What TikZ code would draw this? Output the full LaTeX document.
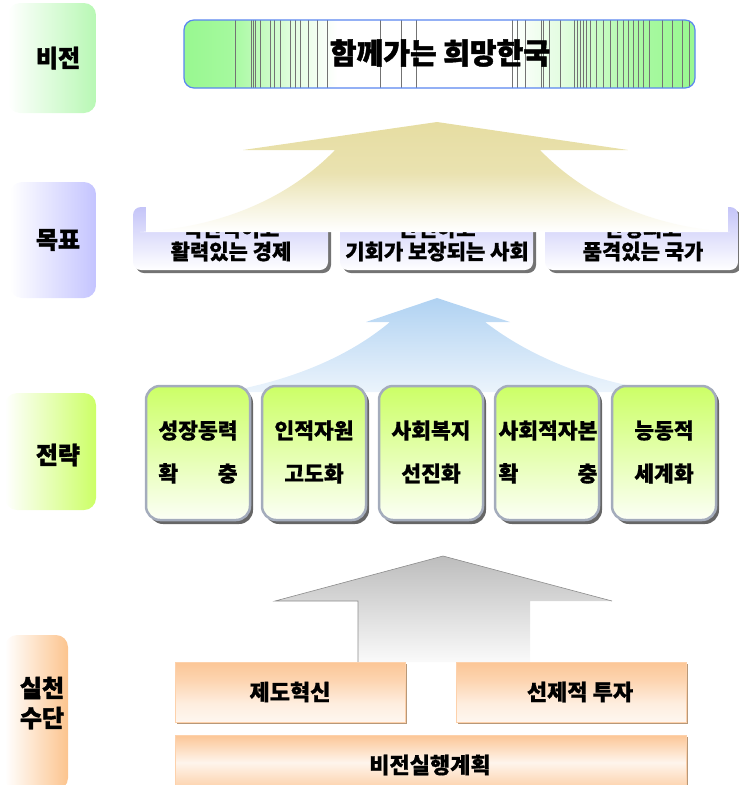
\documentclass[tikz,border=0pt]{standalone}
\usepackage{fontspec}
\usepackage{calc}
\setmainfont{Noto Sans CJK KR}
\newfontfamily\heavyfont{Noto Sans CJK KR}[BoldFeatures={FakeBold=1.6}]
\newfontfamily\semifont{Noto Sans CJK KR}[BoldFeatures={FakeBold=0.7}]
\usetikzlibrary{shadings}
\definecolor{lblgreen}{HTML}{B8F8B4}
\definecolor{lblblue}{HTML}{C4C4FF}
\definecolor{lblyg}{HTML}{CCFF66}
\definecolor{lblorange}{HTML}{FCC48E}
\definecolor{bannerG}{HTML}{98F890}
\definecolor{bannerB}{HTML}{5A86F0}
\definecolor{goaltop}{HTML}{C4C4F8}
\definecolor{strtop}{HTML}{CCFF66}
\definecolor{strborder}{HTML}{A4ACBC}
\definecolor{orgtop}{HTML}{FCC696}
\definecolor{orgshadow}{HTML}{B89878}
\definecolor{yarrow}{HTML}{E6DDA2}
\definecolor{barrow}{HTML}{B0D2F2}
\pgfdeclarehorizontalshading{bannershade}{100bp}{color(0bp)=(bannerG); color(25bp)=(bannerG); color(29.5bp)=(bannerG!88!white); color(36bp)=(bannerG!25!white); color(40bp)=(white); color(57bp)=(white); color(62bp)=(bannerG!28!white); color(70bp)=(bannerG!85!white); color(75bp)=(bannerG); color(100bp)=(bannerG)}
\pgfdeclareverticalshading{yshade}{100bp}{color(0bp)=(white); color(25bp)=(white); color(37bp)=(yarrow!35!white); color(52bp)=(yarrow!85!white); color(75bp)=(yarrow); color(100bp)=(yarrow)}
\pgfdeclareverticalshading{oshade}{100bp}{color(0bp)=(white); color(25bp)=(orgtop!15!white); color(40bp)=(orgtop!30!white); color(60bp)=(orgtop!75!white); color(75bp)=(orgtop); color(100bp)=(orgtop)}
\tikzset{
  lbltext/.style={font=\heavyfont\bfseries\fontsize{24}{30}\selectfont, inner sep=0pt, align=center},
  goalbox/.style={rounded corners=8pt, top color=goaltop, bottom color=white},
  goalshadow/.style={fill=black!55, rounded corners=8pt},
  goaltext/.style={font=\semifont\bfseries\fontsize{21}{23}\selectfont, inner sep=0pt, align=center},
  stratbox/.style={rounded corners=14pt, top color=strtop, bottom color=strtop!6!white, draw=strborder, line width=2.5pt},
  stratshadow/.style={fill=black!60, rounded corners=14pt},
  strattext/.style={font=\semifont\bfseries\fontsize{21.5}{43}\selectfont, inner sep=0pt, align=center},
  orgbox/.style={shading=oshade, draw=orgtop!80!white, line width=0.6pt},
  orgshad/.style={fill=orgshadow},
  orgtext/.style={font=\semifont\bfseries\fontsize{22}{24}\selectfont, inner sep=0pt}
}
\begin{document}
\begin{tikzpicture}[x=1pt,y=-1pt]
\useasboundingbox (0,0) rectangle (739,785);

% ---- left labels
\shade[left color=white, right color=lblgreen, rounded corners=12pt] (8,3) rectangle (96,113);
\node[lbltext] (lvision) at (58,58) {비전};
\shade[left color=white, right color=lblblue, rounded corners=12pt] (10,182) rectangle (96,298);
\node[lbltext] (lgoal) at (58,240) {목표};
\shade[left color=white, right color=lblyg, rounded corners=12pt] (5,393) rectangle (96,510);
\node[lbltext] (lstrat) at (58,455) {전략};
\shade[left color=white, right color=lblorange, rounded corners=12pt] (5,635) rectangle (68,790);
\node[lbltext] (lmeans) at (42,703) {실천\\수단};

% ---- banner
\shade[shading=bannershade, rounded corners=10pt] (184,20) rectangle (695,88);
\begin{scope}
\clip[rounded corners=10pt] (184,20) rectangle (695,88);
\foreach \xx in {235,251,253,255,260,270,274,280,290,295,300,308,317,327,380,401,416,512,517,525,541,543,549,560,574,577,580,583,586,590,596,603,610,617,623,628,633,638,643,649,662,672,682,689}
  \draw[black!55, line width=0.5pt] (\xx,20) -- (\xx,88);
\end{scope}
\draw[bannerB, line width=1.2pt, rounded corners=10pt] (184,20) rectangle (695,88);
\node[font=\heavyfont\bfseries\fontsize{29}{32}\selectfont, inner sep=0pt] (vision) at (440,53) {함께가는 희망한국};

% ---- goal boxes
\fill[goalshadow] (136,210) rectangle (331,273);
\shade[goalbox] (133,207) rectangle (328,270);
\node[goaltext] (g1) at (231,240) {혁신적이고\\활력있는 경제};
\fill[goalshadow] (343,210) rectangle (536,273);
\shade[goalbox] (340,207) rectangle (533,270);
\node[goaltext] (g2) at (437,240) {안전하고\\기회가 보장되는 사회};
\fill[goalshadow] (548,210) rectangle (741,273);
\shade[goalbox] (545,207) rectangle (738,270);
\node[goaltext] (g3) at (643,240) {안정되고\\품격있는 국가};
\fill[white] (146,198) rectangle (728,232);

% ---- yellow arrow
\path[shading=yshade] (437,122) -- (628,150) -- (540,150)
  .. controls (600,212) and (680,229) .. (730,232) -- (140,232)
  .. controls (195,229) and (275,212) .. (335,150) -- (243,150) -- cycle;

% ---- blue arrow
\shade[top color=barrow, bottom color=barrow!25!white] (437,298) -- (510,322) -- (485,322)
  .. controls (545,368) and (615,385) .. (665,392) -- (225,392)
  .. controls (265,385) and (335,368) .. (390,322) -- (366,322) -- cycle;

% ---- strategy boxes
\foreach \cx in {198,314,431,547,664}{
  \fill[stratshadow] (\cx-49,389) rectangle (\cx+55,524);
  \shadedraw[stratbox] (\cx-52,386) rectangle (\cx+52,520);
}
\node[strattext] (s1) at (198,452) {성장동력\\\makebox[\widthof{성장동력}]{확\hfill 충}};
\node[strattext] (s2) at (314,452) {인적자원\\고도화};
\node[strattext] (s3) at (431,452) {사회복지\\선진화};
\node[strattext] (s4) at (548,452) {사회적자본\\\makebox[\widthof{사회적자본}]{확\hfill 충}};
\node[strattext] (s5) at (664,452) {능동적\\세계화};

% ---- gray arrow
\shade[top color=black!26, bottom color=black!2] (443,556) -- (612,601) -- (530,601) -- (530,662) -- (358,662) -- (358,601) -- (275,601) -- cycle;
\draw[black!45, line width=0.6pt] (358,662) -- (358,601) -- (275,601) -- (443,556) -- (612,601);

% ---- means boxes
\fill[orgshad] (177,664) rectangle (407,724);
\path[orgbox] (175,662) rectangle (405,722);
\node[orgtext] (m1) at (290,692) {제도혁신};
\fill[orgshad] (458,664) rectangle (688,724);
\path[orgbox] (456,662) rectangle (686,722);
\node[orgtext] (m2) at (580,692) {선제적 투자};
\fill[orgshad] (177,737) rectangle (688,790);
\shade[top color=orgtop, bottom color=orgtop!85!white, middle color=orgtop!18!white, draw=orgtop!80!white, line width=0.6pt] (175,735) rectangle (686,790);
\node[orgtext] (m3) at (430,765) {비전실행계획};
\end{tikzpicture}
\end{document}
